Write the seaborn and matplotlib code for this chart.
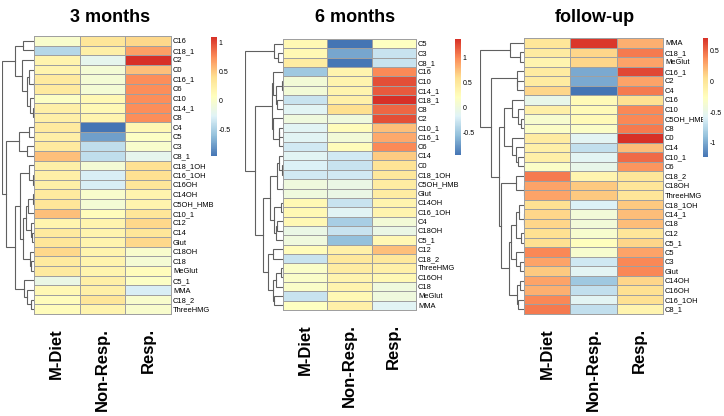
import matplotlib
matplotlib.use('Agg')
import matplotlib.pyplot as plt
import seaborn as sns
import pandas as pd
import numpy as np
from matplotlib.colors import LinearSegmentedColormap
from matplotlib import font_manager

# Data (z-scored acylcarnitine changes)
groups = ['M-Diet', 'Non-Resp.', 'Resp.']

rows_3m = ['C16', 'C18_1', 'C2', 'C0', 'C16_1', 'C6', 'C10', 'C14_1', 'C8', 'C4', 'C5', 'C3', 'C8_1',
           'C18_1OH', 'C16_1OH', 'C16OH', 'C14OH', 'C5OH_HMB', 'C10_1', 'C12', 'C14', 'Glut', 'C18OH',
           'C18', 'MeGlut', 'C5_1', 'MMA', 'C18_2', 'ThreeHMG']
mdiet_3m = [0.0, -0.45, 0.2, 0.2, 0.3, 0.3, 0.05, 0.25, 0.25, 0.3, 0.25, 0.3, 0.55,
            0.25, 0.25, 0.25, 0.3, 0.35, 0.55, 0.2, 0.3, 0.35, 0.45, 0.3, 0.3, -0.15, 0.15, 0.1, 0.1]
nonresp_3m = [0.35, 0.25, -0.2, -0.05, -0.05, -0.05, 0.15, 0.15, 0.2, -0.95, -0.75, -0.4, -0.4,
              -0.05, -0.3, -0.3, 0.0, -0.05, 0.1, 0.2, 0.2, 0.2, 0.2, 0.2, 0.2, 0.25, 0.25, 0.35, 0.2]
resp_3m = [0.45, 0.68, 1.1, 0.55, 0.75, 0.75, 0.75, 0.75, 0.75, 0.15, 0.05, 0.0, -0.2,
           0.4, 0.4, 0.35, 0.2, 0.2, 0.35, 0.45, 0.35, 0.45, 0.0, -0.05, 0.1, 0.05, -0.3, 0.0, 0.0]

rows_6m = ['C5', 'C3', 'C8_1', 'C16', 'C10', 'C14_1', 'C18_1', 'C8', 'C2', 'C10_1', 'C16_1', 'C6', 'C14',
           'C0', 'C18_1OH', 'C5OH_HMB', 'Glut', 'C14OH', 'C16_1OH', 'C4', 'C18OH', 'C5_1', 'C12', 'C18_2',
           'ThreeHMG', 'C16OH', 'C18', 'MeGlut', 'MMA']
mdiet_6m = [0.3, 0.3, 0.45, -0.5, 0.05, 0.05, -0.3, -0.15, 0.0, -0.15, -0.15, -0.25, -0.15,
            -0.2, -0.25, 0.0, 0.0, 0.3, 0.3, 0.3, -0.05, 0.0, 0.25, -0.3, 0.15, 0.15, 0.15, -0.3, 0.2]
nonresp_6m = [-0.96, -0.7, -0.95, 0.35, 0.35, 0.35, 0.4, 0.6, 0.0, 0.25, 0.05, 0.25, -0.25,
              -0.3, -0.25, -0.05, -0.05, -0.3, -0.15, -0.45, -0.3, -0.55, 0.4, 0.5, 0.45, 0.35, 0.35, 0.3, 0.4]
resp_6m = [0.2, -0.3, -0.3, 1.0, 1.25, 1.2, 1.38, 1.15, 1.25, 0.75, 0.85, 1.0, 0.7,
           0.55, 0.5, 0.45, 0.45, 0.35, 0.35, 0.05, -0.05, 0.3, 0.75, 0.5, 0.4, 0.3, 0.0, 0.0, -0.15]

rows_fu = ['MMA', 'C18_1', 'MeGlut', 'C16_1', 'C2', 'C4', 'C16', 'C10', 'C5OH_HMB', 'C8', 'C0', 'C14',
           'C10_1', 'C6', 'C18_2', 'C18OH', 'ThreeHMG', 'C18_1OH', 'C14_1', 'C18', 'C12', 'C5_1', 'C5',
           'C3', 'Glut', 'C14OH', 'C16OH', 'C16_1OH', 'C8_1']
mdiet_fu = [0.0, -0.05, -0.15, -0.05, -0.05, 0.1, -0.5, -0.1, -0.35, -0.3, -0.05, -0.1,
            -0.1, -0.3, 0.45, 0.3, 0.3, 0.05, 0.1, 0.1, 0.05, 0.05, 0.4, 0.3, 0.15, 0.3, 0.25, 0.4, 0.45]
nonresp_fu = [0.68, 0.1, 0.1, -1.0, -1.0, -1.23, -0.2, -0.2, -0.2, -0.3, -0.55, -0.7,
              -0.55, -0.5, -0.15, 0.15, 0.15, -0.6, -0.4, -0.4, -0.35, -0.25, -0.35, -0.65, -0.55, -0.85,
              -0.7, -0.55, -0.7]
resp_fu = [0.25, 0.45, 0.3, 0.62, 0.3, 0.45, 0.05, 0.4, 0.4, 0.45, 0.71, 0.2,
           0.5, 0.35, 0.0, 0.0, 0.0, 0.15, 0.2, 0.2, 0.0, 0.1, 0.3, 0.4, 0.4, 0.1, 0.05, 0.05, -0.15]

titles = ['3 months', '6 months', 'follow-up']
cbar_ticks = [[-0.5, 0, 0.5, 1], [-0.5, 0, 0.5, 1], [-1, -0.5, 0, 0.5]]
cbar_ticklabels = [['-0.5', '0', '0.5', '1'], ['-0.5', '0', '0.5', '1'], ['-1', '-0.5', '0', '0.5']]

# pheatmap default palette
cmap = LinearSegmentedColormap.from_list(
    'rdylbu', ['#4575B4', '#91BFDB', '#E0F3F8', '#FFFFBF', '#FEE090', '#FC8D59', '#D73027'])

avail = {f.name for f in font_manager.fontManager.ttflist}
small_font = 'Liberation Sans Narrow' if 'Liberation Sans Narrow' in avail else 'Liberation Sans'
plt.rcParams['font.family'] = ['Liberation Sans', 'DejaVu Sans']

W, H = 724, 416
fig = plt.figure(figsize=(W / 100, H / 100), dpi=100)


def add_ax(x0, y0, x1, y1):
    return fig.add_axes([x0 / W, 1 - y1 / H, (x1 - x0) / W, (y1 - y0) / H])


def draw_tree(ax, vals):
    # complete-linkage (euclidean) clustering, merging neighbouring rows only
    clusters = [([i], 0.0, i + 0.5) for i in range(len(vals))]
    while len(clusters) > 1:
        best = None
        for k in range(len(clusters) - 1):
            d = max(np.linalg.norm(vals[i] - vals[j])
                    for i in clusters[k][0] for j in clusters[k + 1][0])
            if best is None or d < best[0]:
                best = (d, k)
        d, k = best
        a, b = clusters[k], clusters[k + 1]
        h = max(d, a[1], b[1])
        ax.plot([a[1], h, h, b[1]], [a[2], a[2], b[2], b[2]], color='#606060', lw=0.8,
                solid_joinstyle='miter')
        clusters[k:k + 2] = [(a[0] + b[0], h, (a[2] + b[2]) / 2)]
    root = clusters[0][1]
    ax.set_xlim(root * 1.01, 0)
    ax.set_ylim(len(vals), 0)
    ax.axis('off')


panels = [
    (rows_3m, mdiet_3m, nonresp_3m, resp_3m, (2, 36, 34, 314), (34, 36, 171, 314), (211, 37, 217, 156), 110),
    (rows_6m, mdiet_6m, nonresp_6m, resp_6m, (245, 39, 283, 310), (283, 39, 416, 310), (455, 39, 461, 155), 355),
    (rows_fu, mdiet_fu, nonresp_fu, resp_fu, (480, 38, 524, 314), (524, 38, 663, 314), (703, 38, 708, 157), 595),
]

for p, (rows, a, b, c, dbox, hbox, cbox, tx) in enumerate(panels):
    df = pd.DataFrame({groups[0]: a, groups[1]: b, groups[2]: c}, index=rows)
    ax_d = add_ax(*dbox)
    ax_h = add_ax(*hbox)
    cax = add_ax(*cbox)

    draw_tree(ax_d, df.values)

    sns.heatmap(df, ax=ax_h, cmap=cmap, vmin=df.values.min(), vmax=df.values.max(),
                linewidths=0.5, linecolor='#a0a0a0', cbar_ax=cax,
                cbar_kws={'ticks': cbar_ticks[p]}, yticklabels=True, xticklabels=True)
    ax_h.collections[0].set_clip_on(False)
    ax_h.yaxis.tick_right()
    ax_h.tick_params(axis='y', length=0, pad=1.5, labelsize=5.4, rotation=0)
    ax_h.tick_params(axis='x', length=0, pad=10)
    for t in ax_h.get_yticklabels():
        t.set_fontfamily(small_font)
    ax_h.set_xticklabels(groups, rotation=90, fontsize=12, fontweight='bold', va='top', ha='center')
    ax_h.set_xlabel('')
    ax_h.set_ylabel('')

    cb = ax_h.collections[0].colorbar
    cb.outline.set_visible(False)
    cb.set_ticklabels(cbar_ticklabels[p])
    cax.tick_params(length=0, pad=1.2, labelsize=5.0)
    for t in cax.get_yticklabels():
        t.set_fontfamily(small_font)

    fig.text(tx / W, 1 - 17 / H, titles[p], ha='center', va='center', fontsize=13, fontweight='bold')

fig.savefig('out.png', dpi=100)
